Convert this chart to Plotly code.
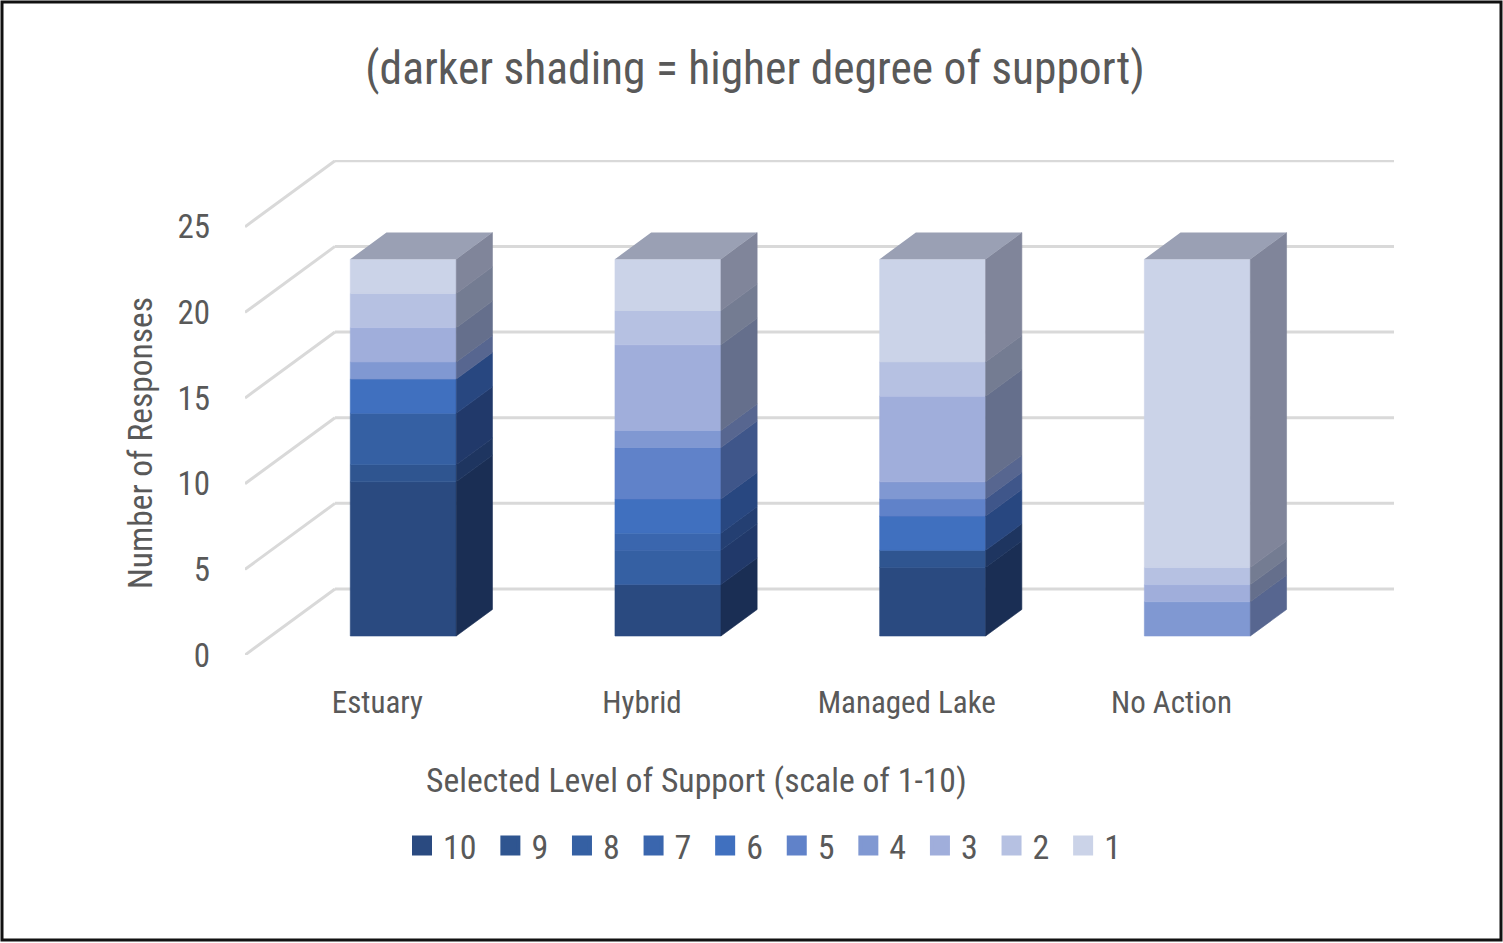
import plotly.graph_objects as go

categories = ["Estuary", "Hybrid", "Managed Lake", "No Action"]
levels = ["10", "9", "8", "7", "6", "5", "4", "3", "2", "1"]
support_10 = [9, 3, 4, 0]
support_9 = [1, 0, 1, 0]
support_8 = [3, 2, 0, 0]
support_7 = [0, 1, 0, 0]
support_6 = [2, 2, 2, 0]
support_5 = [0, 3, 1, 0]
support_4 = [1, 1, 1, 2]
support_3 = [2, 5, 5, 1]
support_2 = [2, 2, 2, 1]
support_1 = [2, 3, 6, 18]
series = [support_10, support_9, support_8, support_7, support_6,
          support_5, support_4, support_3, support_2, support_1]
y_ticks = [0, 5, 10, 15, 20, 25]

front_colors = ["#2a4a80", "#2f5590", "#3560a3", "#3a66ae", "#4070bf",
                "#6082c9", "#8098d2", "#a0aedb", "#b6c1e2", "#cbd3e8"]
side_colors = ["#1a2e54", "#1e3560", "#21396a", "#243f72", "#284780",
               "#3f568a", "#576690", "#656f8c", "#747c92", "#80859a"]
top_color = "#9aa0b4"
text_color = "#595959"
grid_color = "#d9d9d9"
FONT = "Roboto Condensed, Noto Sans Condensed, Open Sans Condensed, DejaVu Sans Condensed, sans-serif"

# page geometry
W, H = 1503, 943
L, R, T, B = 245, 1394, 160, 655
X_UNIT = 264.7   # px per category
Y_UNIT = 17.13   # px per response
DEPTH_X = 90 / X_UNIT   # whole-depth oblique shift, axis units
DEPTH_Y = 66 / Y_UNIT
BAR_FRONT, BAR_BACK = 0.288, 0.69
BAR_W = 106 / X_UNIT


def px(x):
    return (x - L) / (R - L)


def py(y):
    return (B - y) / (B - T)


fig = go.Figure()

# front faces (categories with no responses at a level draw no bar)
cum = [0] * len(categories)
shift_x = BAR_FRONT * DEPTH_X
shift_y = BAR_FRONT * DEPTH_Y
depth_x = (BAR_BACK - BAR_FRONT) * DEPTH_X
depth_y = (BAR_BACK - BAR_FRONT) * DEPTH_Y
bases = []
for k, vals in enumerate(series):
    bases.append(list(cum))
    fig.add_trace(go.Bar(
        x=[i + shift_x for i in range(len(categories))],
        y=[v if v > 0 else None for v in vals],
        base=[c + shift_y for c in cum],
        width=BAR_W,
        marker=dict(color=front_colors[k], line=dict(width=0.6, color=front_colors[k])),
        showlegend=False,
        hoverinfo="skip",
    ))
    cum = [c + v for c, v in zip(cum, vals)]

# side faces
for k, vals in enumerate(series):
    xs, ys = [], []
    for i, v in enumerate(vals):
        if v == 0:
            continue
        xr = i + shift_x + BAR_W / 2
        y0 = bases[k][i] + shift_y
        xs += [xr, xr + depth_x, xr + depth_x, xr, xr, None]
        ys += [y0, y0 + depth_y, y0 + v + depth_y, y0 + v, y0, None]
    fig.add_trace(go.Scatter(x=xs, y=ys, mode="lines", fill="toself",
                             fillcolor=side_colors[k],
                             line=dict(width=0.6, color=side_colors[k]),
                             showlegend=False, hoverinfo="skip"))

# top faces
xs, ys = [], []
for i, total in enumerate(cum):
    xl = i + shift_x - BAR_W / 2
    xr = xl + BAR_W
    yt = total + shift_y
    xs += [xl, xr, xr + depth_x, xl + depth_x, xl, None]
    ys += [yt, yt, yt + depth_y, yt + depth_y, yt, None]
fig.add_trace(go.Scatter(x=xs, y=ys, mode="lines", fill="toself",
                         fillcolor=top_color, line=dict(width=0),
                         showlegend=False, hoverinfo="skip"))

# legend entries (the no-break space widens each entry to the reference spacing)
for k, lev in enumerate(levels):
    fig.add_trace(go.Scatter(
        x=[None], y=[None], mode="markers", name=lev + "\u00a0",
        marker=dict(symbol="square", size=16, color=front_colors[k],
                    line=dict(width=4, color=front_colors[k])),
    ))

# wall lines
x_left = -0.5
x_right = x_left + (R - L) / X_UNIT
shapes = []
for t in y_ticks:
    shapes.append(dict(type="line", layer="below", xref="x", yref="y",
                       x0=x_left, y0=t, x1=x_left + DEPTH_X, y1=t + DEPTH_Y,
                       line=dict(color=grid_color, width=3)))
    shapes.append(dict(type="line", layer="below", xref="x", yref="y",
                       x0=x_left + DEPTH_X, y0=t + DEPTH_Y, x1=x_right, y1=t + DEPTH_Y,
                       line=dict(color=grid_color, width=3)))
# outer frame of the picture
shapes.append(dict(type="rect", xref="paper", yref="paper",
                   x0=px(2), x1=px(1501), y0=py(2), y1=py(940),
                   line=dict(color="#111111", width=3), fillcolor="rgba(0,0,0,0)"))

annotations = [
    dict(text="Number of Responses", xref="paper", yref="paper",
         x=px(140), y=py(443), textangle=-90, showarrow=False,
         xanchor="center", yanchor="middle",
         font=dict(family=FONT, size=33.5, color=text_color)),
    dict(text="Selected Level of Support (scale of 1-10)", xref="paper", yref="paper",
         x=px(696), y=py(780), showarrow=False, xanchor="center", yanchor="middle",
         font=dict(family=FONT, size=33.7, color=text_color)),
]

fig.update_layout(
    width=W, height=H,
    autosize=False,
    paper_bgcolor="white", plot_bgcolor="rgba(0,0,0,0)",
    barmode="overlay",
    margin=dict(l=L, r=W - R, t=T, b=H - B, pad=0, autoexpand=False),
    title=dict(text="(darker shading = higher degree of support)",
               x=755 / W, y=1 - 68 / H, xref="container", yref="container",
               xanchor="center", yanchor="middle",
               font=dict(family=FONT, size=45.5, color=text_color)),
    xaxis=dict(range=[x_left, x_right], tickmode="array",
               tickvals=list(range(len(categories))), ticktext=categories,
               showgrid=False, zeroline=False, showline=False, ticks="",
               ticklabelstandoff=26,
               tickfont=dict(family=FONT, size=31, color=text_color)),
    yaxis=dict(range=[0, (B - T) / Y_UNIT], tickmode="array", tickvals=y_ticks,
               showgrid=False, zeroline=False, showline=False, ticks="",
               ticklabelstandoff=34,
               tickfont=dict(family=FONT, size=33, color=text_color)),
    legend=dict(orientation="h", x=px(767.5), y=py(846), xanchor="center", yanchor="middle",
                itemwidth=32,
                font=dict(family=FONT, size=34, color=text_color),
                bgcolor="rgba(0,0,0,0)", itemclick=False, itemdoubleclick=False),
    shapes=shapes,
    annotations=annotations,
    hovermode=False,
)

fig.write_html("out.html", config={"displayModeBar": False},
               post_script="document.body.style.margin='0';document.documentElement.style.overflow='hidden';")
